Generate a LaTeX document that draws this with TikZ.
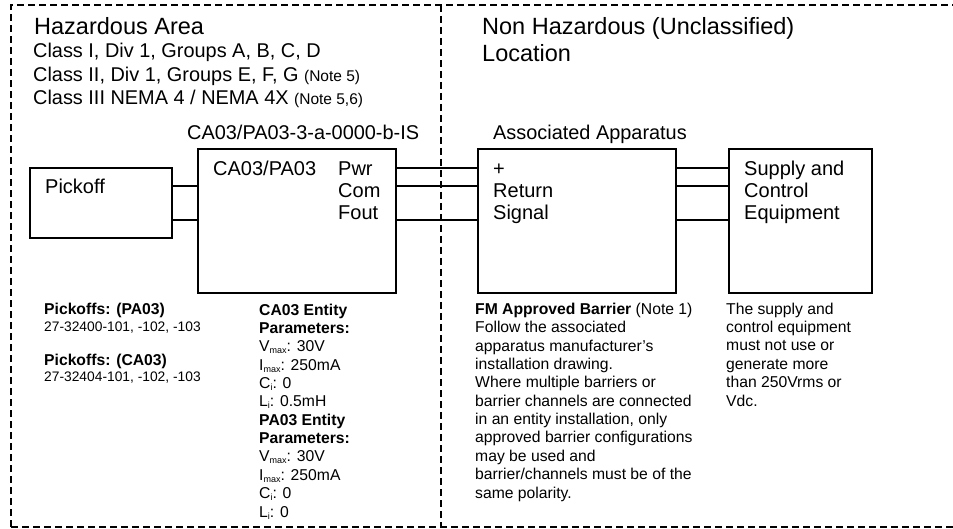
\documentclass[tikz,border=0pt]{standalone}
\usepackage{fontspec}
\setmainfont{Liberation Sans}
\tikzset{
  box/.style={draw, line width=1.8pt, inner sep=0pt},
  wire/.style={line width=1.8pt},
  zone/.style={line width=1.9pt, dash pattern=on 7pt off 4pt},
  title/.style={anchor=base west, inner sep=0pt, align=left, font=\fontsize{23.5}{27}\selectfont},
  label/.style={anchor=base west, inner sep=0pt, align=left, font=\fontsize{19.9}{23.5}\selectfont},
  boxtext/.style={anchor=base west, inner sep=0pt, align=left, font=\fontsize{20}{22}\selectfont},
  notes/.style={anchor=base west, inner sep=0pt, align=left, font=\fontsize{15.7}{18.36}\selectfont},
  partno/.style={anchor=base west, inner sep=0pt, font=\fontsize{13.8}{16}\selectfont}
}
\newcommand{\lowtext}[1]{\raisebox{-2pt}{\fontsize{9}{9}\selectfont #1}}
\begin{document}
\begin{tikzpicture}[x=1pt,y=-1pt]
\useasboundingbox (0,0) rectangle (953,529);

\coordinate (TL) at (11,5);
\coordinate (TM) at (441,5);
\coordinate (TR) at (953,5);
\coordinate (BL) at (11,527);
\coordinate (BM) at (441,527);
\coordinate (BR) at (953,527);
\coordinate (W1) at (0,168);
\coordinate (W2) at (0,186);
\coordinate (W3) at (0,220);

\draw[zone] (BL) -- (TL) -- (TR);
\draw[zone] (BL) -- (BR);
\draw[zone] (TM) -- (BM);

\node[box, minimum width=142pt, minimum height=70pt] (pickoff) at (101,203) {};
\node[box, minimum width=198pt, minimum height=144pt] (ca03) at (297,221) {};
\node[box, minimum width=198pt, minimum height=144pt] (barrier) at (577,221) {};
\node[box, minimum width=143pt, minimum height=144pt] (supply) at (800.5,221) {};

\draw[wire] (pickoff.east |- W2) -- (ca03.west |- W2);
\draw[wire] (pickoff.east |- W3) -- (ca03.west |- W3);
\draw[wire] (ca03.east |- W1) -- (barrier.west |- W1);
\draw[wire] (ca03.east |- W2) -- (barrier.west |- W2);
\draw[wire] (ca03.east |- W3) -- (barrier.west |- W3);
\draw[wire] (barrier.east |- W1) -- (supply.west |- W1);
\draw[wire] (barrier.east |- W2) -- (supply.west |- W2);
\draw[wire] (barrier.east |- W3) -- (supply.west |- W3);

\node[title] (hazard) at (34,35) {Hazardous Area};
\node[label] (classes) at (33,105) {Class I, Div 1, Groups A, B, C, D\\
Class II, Div 1, Groups E, F, G {\fontsize{15.5}{15.5}\selectfont (Note 5)}\\
Class III NEMA 4 / NEMA 4X {\fontsize{15.5}{15.5}\selectfont (Note 5,6)}};
\node[title] (safe) at (482,62) {Non Hazardous (Unclassified)\\Location};

\node[label] (model) at (187,140) {CA03/PA03-3-a-0000-b-IS};
\node[label] (assoc) at (493,140) {Associated Apparatus};

\node[boxtext] (pickname) at (45,193.5) {Pickoff};
\node[boxtext] (caname) at (213,176) {CA03/PA03};
\node[boxtext] (pins) at (338,220) {Pwr\\Com\\Fout};
\node[boxtext] (barpins) at (493,220) {+\\Return\\Signal};
\node[boxtext] (supname) at (744,220) {Supply and\\Control\\Equipment};

\node[notes] (pa03pick) at (44,315) {\textbf{Pickoffs: (PA03)}};
\node[partno] (pa03num) at (44,331) {27-32400-101, -102, -103};
\node[notes] (ca03pick) at (44,365) {\textbf{Pickoffs: (CA03)}};
\node[partno] (ca03num) at (44,381) {27-32404-101, -102, -103};

\node[notes] (entity) at (259,517) {\textbf{CA03 Entity}\\\textbf{Parameters:}\\
V\lowtext{max}: 30V\\I\lowtext{max}: 250mA\\C\lowtext{i}: 0\\L\lowtext{i}: 0.5mH\\
\textbf{PA03 Entity}\\\textbf{Parameters:}\\
V\lowtext{max}: 30V\\I\lowtext{max}: 250mA\\C\lowtext{i}: 0\\L\lowtext{i}: 0};

\node[notes] (fm) at (475,498) {\textbf{FM Approved Barrier} (Note 1)\\Follow the associated\\
apparatus manufacturer's\\installation drawing.\\Where multiple barriers or\\
barrier channels are connected\\in an entity installation, only\\
approved barrier configurations\\may be used and\\barrier/channels must be of the\\same polarity.};
\node[notes] (limit) at (726,406) {The supply and\\control equipment\\must not use or\\generate more\\than 250Vrms or\\Vdc.};
\end{tikzpicture}
\end{document}
